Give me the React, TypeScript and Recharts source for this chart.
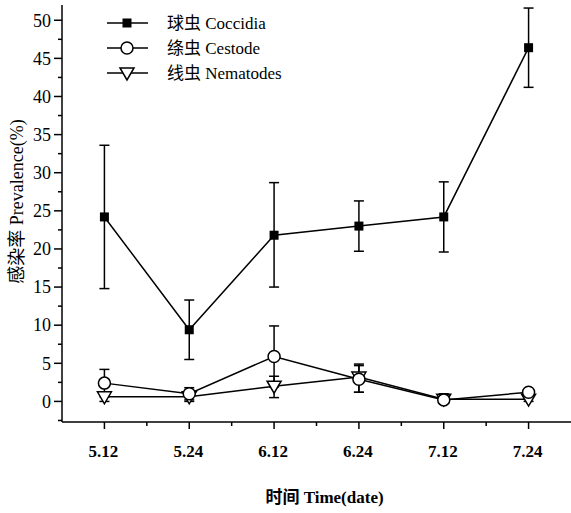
import React from 'react';
import { LineChart, Line, XAxis, YAxis, ErrorBar, Legend } from 'recharts';

const dates = ['5.12', '5.24', '6.12', '6.24', '7.12', '7.24'];
const coccidia = [24.2, 9.4, 21.8, 23.0, 24.2, 46.4];
const coccidiaErr = [[9.4, 9.4], [3.9, 3.9], [6.8, 6.9], [3.3, 3.3], [4.6, 4.6], [5.2, 5.2]];
const cestode = [2.4, 1.0, 5.9, 2.9, 0.2, 1.2];
const cestodeErr = [[1.8, 1.8], [0.8, 0.8], [4.0, 4.0], [1.7, 1.8], [0.2, 0.8], [0.3, 0.3]];
const nematodes = [0.6, 0.6, 2.0, 3.2, 0.3, 0.3];
const nematodesErr = [[0.6, 0.6], [0.6, 0.6], [1.5, 1.3], [2.0, 1.7], [0.3, 0.3], [0.3, 0.3]];

const yTicks = [-2.5, 0, 2.5, 5, 7.5, 10, 12.5, 15, 17.5, 20, 22.5, 25, 27.5, 30, 32.5, 35, 37.5, 40, 42.5, 45, 47.5, 50];
const xTicks = [0, 0.5, 1, 1.5, 2, 2.5, 3, 3.5, 4, 4.5, 5];

const FONT = "'Liberation Serif', 'Times New Roman', 'DejaVu Serif', 'Noto Sans CJK SC', serif";

const data = dates.map((d, i) => ({
  x: i,
  date: d,
  coccidia: coccidia[i],
  coccidiaErr: coccidiaErr[i],
  cestode: cestode[i],
  cestodeErr: cestodeErr[i],
  nematodes: nematodes[i],
  nematodesErr: nematodesErr[i],
}));

function Square(props: any) {
  const { cx, cy } = props;
  if (cx == null || cy == null) return null;
  return <rect x={cx - 4.5} y={cy - 4.5} width={9} height={9} fill="#000" />;
}

function OpenCircle(props: any) {
  const { cx, cy } = props;
  if (cx == null || cy == null) return null;
  return <circle cx={cx} cy={cy} r={6} fill="#fff" stroke="#000" strokeWidth={1.5} />;
}

function DownTriangle(props: any) {
  const { cx, cy } = props;
  if (cx == null || cy == null) return null;
  return (
    <polygon
      points={`${cx - 7},${cy - 5} ${cx + 7},${cy - 5} ${cx},${cy + 7}`}
      fill="#fff"
      stroke="#000"
      strokeWidth={1.5}
    />
  );
}

function YTick(props: any) {
  const { x, y, payload } = props;
  const major = payload.value % 5 === 0;
  return (
    <g>
      <line x1={x} y1={y} x2={x - (major ? 8 : 4)} y2={y} stroke="#000" strokeWidth={1.5} />
      {major && (
        <text x={x - 11} y={y} dy="0.35em" textAnchor="end" fontSize={18} style={{ fontFamily: FONT }} fill="#000">
          {payload.value}
        </text>
      )}
    </g>
  );
}

function XTick(props: any) {
  const { x, y, payload } = props;
  const major = Number.isInteger(payload.value);
  return (
    <g>
      <line x1={x} y1={y} x2={x} y2={y + (major ? 7 : 4)} stroke="#000" strokeWidth={1.5} />
      {major && (
        <text x={x - 1} y={y + 29} dy="0.35em" textAnchor="middle" fontSize={17} fontWeight="bold" style={{ fontFamily: FONT }} fill="#000">
          {dates[payload.value]}
        </text>
      )}
    </g>
  );
}

const legendItems = [
  { label: '球虫 Coccidia', Shape: Square },
  { label: '绦虫 Cestode', Shape: OpenCircle },
  { label: '线虫 Nematodes', Shape: DownTriangle },
];

function LegendContent() {
  return (
    <svg width={220} height={80}>
      {legendItems.map((it, i) => {
        const cy = 15 + i * 25;
        return (
          <g key={it.label}>
            <line x1={7} y1={cy} x2={48} y2={cy} stroke="#000" strokeWidth={1.5} />
            <it.Shape cx={27} cy={cy} />
            <text x={67} y={cy} dy="0.35em" fontSize={17} style={{ fontFamily: FONT }} fill="#000">
              {it.label}
            </text>
          </g>
        );
      })}
    </svg>
  );
}

export default function App() {
  return (
    <div style={{ position: 'absolute', left: 0, top: 0, background: '#fff' }}>
      <LineChart width={571} height={513} data={data} margin={{ top: 5, right: 0, left: 0, bottom: 0 }}>
        <XAxis
          dataKey="x"
          type="number"
          domain={[-0.5, 5.5]}
          ticks={xTicks}
          interval={0}
          tickSize={0}
          tickMargin={0}
          tickLine={false}
          tick={<XTick />}
          axisLine={{ stroke: '#000', strokeWidth: 1.5 }}
          height={91}
          label={{
            content: (p: any) => {
              const vb = p.viewBox;
              return (
                <text x={vb.x + vb.width / 2 + 8} y={vb.y + 81} textAnchor="middle" fontSize={17} fontWeight="bold" style={{ fontFamily: FONT }} fill="#000">
                  时间 Time(date)
                </text>
              );
            },
          }}
        />
        <YAxis
          type="number"
          domain={[-2.7, 52]}
          ticks={yTicks}
          interval={0}
          tickSize={0}
          tickMargin={0}
          tickLine={false}
          tick={<YTick />}
          axisLine={{ stroke: '#000', strokeWidth: 1.5 }}
          width={62}
          allowDataOverflow
          label={{
            content: (p: any) => {
              const vb = p.viewBox;
              const cx = vb.x + 17;
              const cy = vb.y + vb.height / 2 - 12;
              return (
                <text x={cx} y={cy} transform={`rotate(-90 ${cx} ${cy})`} dy="0.35em" textAnchor="middle" fontSize={18} style={{ fontFamily: FONT }} fill="#000">
                  感染率 Prevalence(%)
                </text>
              );
            },
          }}
        />
        <Legend
          layout="vertical"
          align="center"
          verticalAlign="middle"
          wrapperStyle={{ left: 100, top: 8, width: 220 }}
          content={<LegendContent />}
        />
        <Line dataKey="coccidia" stroke="#000" strokeWidth={1.5} dot={<Square />} activeDot={false} isAnimationActive={false}>
          <ErrorBar dataKey="coccidiaErr" direction="y" width={5} stroke="#000" strokeWidth={1.5} isAnimationActive={false} />
        </Line>
        <Line dataKey="nematodes" stroke="#000" strokeWidth={1.5} dot={<DownTriangle />} activeDot={false} isAnimationActive={false}>
          <ErrorBar dataKey="nematodesErr" direction="y" width={5} stroke="#000" strokeWidth={1.5} isAnimationActive={false} />
        </Line>
        <Line dataKey="cestode" stroke="#000" strokeWidth={1.5} dot={<OpenCircle />} activeDot={false} isAnimationActive={false}>
          <ErrorBar dataKey="cestodeErr" direction="y" width={5} stroke="#000" strokeWidth={1.5} isAnimationActive={false} />
        </Line>
      </LineChart>
    </div>
  );
}
